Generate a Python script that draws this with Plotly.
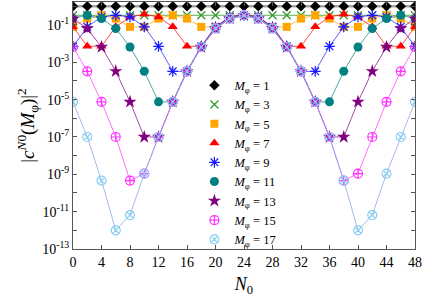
import plotly.graph_objects as go

N0 = list(range(0, 50, 2))

M_labels = [1, 3, 5, 7, 9, 11, 13, 15, 17]

c_M1 = [1.0] * 25
c_M3 = [0.33] * 25
c_M5 = [0.079, 0.22, 0.33, 0.22, 0.079, 0.079, 0.22, 0.33, 0.22, 0.079,
        0.079, 0.22, 0.33, 0.22, 0.079, 0.079, 0.22, 0.33, 0.22, 0.079,
        0.079, 0.22, 0.33, 0.22, 0.079]
c_M7 = [0.079, 0.0072, 0.0072, 0.079, 0.27, 0.37, 0.27, 0.079, 0.0072, 0.0072,
        0.079, 0.27, 0.37, 0.27, 0.079, 0.0072, 0.0072, 0.079, 0.27, 0.37,
        0.27, 0.079, 0.0072, 0.0072, 0.079]
c_M9 = [0.0072, 0.079, 0.27, 0.33, 0.27, 0.079, 0.0072, 3.3e-4, 3.3e-4, 0.0072,
        0.079, 0.27, 0.33, 0.27, 0.079, 0.0072, 3.3e-4, 3.3e-4, 0.0072, 0.079,
        0.27, 0.33, 0.27, 0.079, 0.0072]
c_M11 = [0.22, 0.33, 0.22, 0.065, 0.0066, 3.3e-4, 7.6e-6, 7.6e-6, 3.3e-4, 0.0066,
         0.065, 0.22, 0.33, 0.22, 0.065, 0.0066, 3.3e-4, 7.6e-6, 7.6e-6, 3.3e-4,
         0.0066, 0.065, 0.22, 0.33, 0.22]
c_M13 = [0.22, 0.065, 0.0066, 3.3e-4, 7.6e-6, 1.0e-7, 1.0e-7, 7.6e-6, 3.3e-4, 0.0066,
         0.065, 0.22, 0.33, 0.22, 0.065, 0.0066, 3.3e-4, 7.6e-6, 1.0e-7, 1.0e-7,
         7.6e-6, 3.3e-4, 0.0066, 0.065, 0.22]
c_M15 = [0.0066, 3.3e-4, 7.6e-6, 1.0e-7, 4.6e-10, 1.1e-9, 1.0e-7, 7.6e-6, 3.3e-4, 0.0066,
         0.065, 0.22, 0.33, 0.22, 0.065, 0.0066, 3.3e-4, 7.6e-6, 1.0e-7, 4.6e-10,
         1.1e-9, 1.0e-7, 7.6e-6, 3.3e-4, 0.0066]
c_M17 = [7.6e-6, 1.0e-7, 4.6e-10, 1.0e-12, 6.6e-12, 1.1e-9, 1.0e-7, 7.6e-6, 3.3e-4, 0.0066,
         0.065, 0.22, 0.33, 0.22, 0.065, 0.0066, 3.3e-4, 7.6e-6, 1.0e-7, 4.6e-10,
         1.0e-12, 6.6e-12, 1.1e-9, 1.0e-7, 7.6e-6]

series = [c_M1, c_M3, c_M5, c_M7, c_M9, c_M11, c_M13, c_M15, c_M17]

x_ticks = list(range(0, 49, 4))
y_tick_exps = list(range(-13, 1))

styles = [
    ("#000000", "rgba(0,0,0,0.35)", "diamond", 8, 2.5),
    ("#2e9a2e", "rgba(46,154,46,0.8)", "x-thin-open", 8, 1),
    ("#ffa500", "rgba(255,165,0,0.7)", "square", 8, 1),
    ("#ff0000", "rgba(255,0,0,0.7)", "triangle-up", 9, 1),
    ("#1a1aff", "rgba(26,26,255,0.7)", "asterisk-open", 9, 1),
    ("#008080", "rgba(0,128,128,0.7)", "circle", 9, 1),
    ("#800080", "rgba(128,0,128,0.7)", "star", 10, 1),
    ("#ff33ff", "rgba(255,51,255,0.7)", "circle-cross-open", 9, 1),
    ("#87cef0", "rgba(140,170,230,0.8)", "circle-x-open", 9, 1),
]

fig = go.Figure()
for m, vals, (mc, lc, sym, sz, lw) in zip(M_labels, series, styles):
    fig.add_trace(go.Scatter(
        x=N0, y=vals, mode="lines+markers", showlegend=False,
        line=dict(color=lc, width=lw),
        marker=dict(symbol=sym, size=sz, color=mc,
                    line=dict(color=mc, width=1.2 if "open" in sym else 0)),
    ))
for m, (mc, lc, sym, sz, lw) in zip(M_labels, styles):
    fig.add_trace(go.Scatter(
        x=[None], y=[None], mode="markers",
        name=f"<i>M</i><sub>φ</sub> = {m}",
        marker=dict(symbol=sym, size=sz, color=mc,
                    line=dict(color=mc, width=1.2 if "open" in sym else 0)),
    ))

font_family = "Liberation Serif"
axis_common = dict(
    showline=True, linecolor="#555555", linewidth=1, mirror="ticks",
    ticks="inside", ticklen=4, tickcolor="#555555", showgrid=False, zeroline=False,
    tickfont=dict(family=font_family, size=14, color="#000000"),
)

fig.update_layout(
    width=436, height=300,
    margin=dict(l=73, r=21, t=2, b=51),
    paper_bgcolor="white", plot_bgcolor="white",
    font=dict(family=font_family, color="#000000"),
    xaxis=dict(range=[0, 48], tickvals=x_ticks, ticktext=[str(v) for v in x_ticks],
               title=dict(text="<i>N</i><sub>0</sub>", font=dict(size=18, family=font_family), standoff=8),
               **axis_common),
    yaxis=dict(type="log", range=[-13, 0.23], tickvals=[10.0 ** e for e in y_tick_exps],
               ticktext=[f"10<sup>{e}</sup>" if e % 2 == 1 or e == -13 else "" for e in y_tick_exps],
               title=dict(text="|<i>c</i><sup><i>N</i>0</sup>(<i>M</i><sub>φ</sub>)|<sup>2</sup>",
                          font=dict(size=19, family=font_family), standoff=2),
               **axis_common),
    legend=dict(x=0.355, y=0.722, xanchor="left", yanchor="top", bgcolor="rgba(0,0,0,0)",
                font=dict(family=font_family, size=12.5), tracegroupgap=0, itemwidth=30),
)

fig.write_html("out.html", config={"displayModeBar": False},
               post_script="document.body.style.margin='0px';document.body.style.overflow='hidden';")
